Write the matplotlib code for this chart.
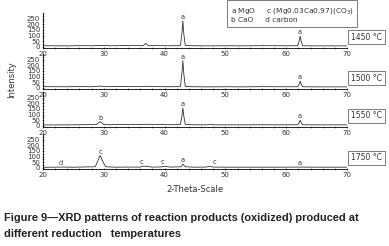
import matplotlib
matplotlib.use("Agg")
import matplotlib.pyplot as plt
from matplotlib.ticker import MultipleLocator

plt.rcParams['font.family'] = ['DejaVu Sans']

# temperatures (panel labels)
temps = ["1450 °C", "1500 °C", "1550 °C", "1750 °C"]

# XRD patterns (2-theta, intensity)
x_1450 = [20, 24, 26, 28, 29.4, 31, 33, 35, 36.5, 36.9, 37.3, 39, 41, 42.6, 42.85, 43.0, 43.15, 43.4, 45, 47, 50, 53, 56, 59, 61.9, 62.15, 62.3, 62.45, 62.7, 65, 70]
y_1450 = [10, 9, 11, 10, 13, 10, 12, 11, 12, 30, 12, 11, 10, 12, 120, 230, 120, 12, 10, 9, 10, 9, 11, 10, 10, 55, 95, 55, 10, 9, 9]

x_1500 = [20, 24, 26, 28, 29.4, 31, 33, 35, 36.9, 39, 41, 42.6, 42.85, 43.0, 43.15, 43.4, 45, 47, 50, 53, 56, 59, 61.9, 62.15, 62.3, 62.45, 62.7, 65, 70]
y_1500 = [11, 10, 12, 10, 15, 11, 12, 11, 14, 11, 10, 12, 130, 240, 130, 12, 10, 9, 10, 9, 11, 10, 10, 35, 60, 35, 10, 9, 9]

x_1550 = [20, 24, 26, 28.8, 29.4, 30.0, 31, 33, 35, 36.9, 39, 41, 42.6, 42.85, 43.0, 43.15, 43.4, 45, 47, 47.6, 48.2, 50, 53, 56, 59, 61.9, 62.15, 62.3, 62.45, 62.7, 65, 70]
y_1550 = [8, 9, 10, 12, 38, 12, 10, 13, 11, 14, 12, 10, 12, 90, 160, 90, 12, 10, 9, 14, 9, 9, 9, 10, 9, 10, 30, 50, 30, 10, 9, 9]

x_1750 = [20, 23, 25, 28.6, 29.0, 29.4, 29.8, 30.3, 32, 34, 36.0, 36.4, 38, 39.4, 39.8, 41, 42.7, 43.0, 43.4, 45, 46.8, 47.4, 48.0, 50, 53, 56, 59, 62.3, 65, 70]
y_1750 = [5, 7, 6, 10, 60, 110, 60, 10, 6, 7, 7, 16, 7, 8, 14, 7, 10, 32, 10, 6, 7, 14, 7, 6, 6, 6, 6, 7, 6, 6]

patterns = [(x_1450, y_1450), (x_1500, y_1500), (x_1550, y_1550), (x_1750, y_1750)]

# peak letters: (2-theta, intensity, letter)
labels_1450 = [(43.0, 230, "a"), (62.3, 95, "a")]
labels_1500 = [(43.0, 240, "a"), (62.3, 60, "a")]
labels_1550 = [(29.4, 38, "b"), (43.0, 160, "a"), (62.3, 50, "a")]
labels_1750 = [(23.0, 7, "d"), (29.4, 110, "c"), (36.2, 16, "c"), (39.6, 14, "c"),
               (43.0, 32, "a"), (48.2, 14, "c"), (62.3, 7, "a")]
peak_labels = [labels_1450, labels_1500, labels_1550, labels_1750]

fig = plt.figure(figsize=(3.89, 2.46), dpi=100)
H = 246.0
W = 389.0
left = 43 / W
width = (347 - 43) / W
axis_lines = [48, 89, 127, 169]
ax_h = 35 / H

for i, ((xs, ys), lab, t) in enumerate(zip(patterns, peak_labels, temps)):
    bottom = 1 - axis_lines[i] / H
    ax = fig.add_axes([left, bottom, width, ax_h])
    ax.patch.set_visible(False)
    ax.plot(xs, ys, color="#333333", lw=0.6)
    ax.set_xlim(20, 70)
    ax.set_ylim(-10, 300)
    ax.spines['top'].set_visible(False)
    ax.spines['right'].set_visible(False)
    ax.spines['left'].set_linewidth(0.6)
    ax.spines['bottom'].set_linewidth(0.6)
    ax.xaxis.set_major_locator(MultipleLocator(10))
    ax.xaxis.set_minor_locator(MultipleLocator(2))
    ax.yaxis.set_minor_locator(MultipleLocator(25))
    ax.set_yticks([0, 50, 100, 150, 200, 250])
    ax.tick_params(axis='both', which='major', labelsize=5, length=2, width=0.5,
                   pad=1, direction='inout', colors="#333333")
    ax.tick_params(axis='both', which='minor', length=1.2, width=0.4, direction='inout',
                   colors="#333333")
    for lx, ly, lt in lab:
        ax.text(lx, ly + 8, lt, fontsize=4.8, ha='center', va='bottom', color="#333333")
    fig.text(382 / W, 1 - (axis_lines[i] - 11) / H, t, fontsize=5.5, ha='right', va='center',
             color="#333333",
             bbox=dict(boxstyle='square,pad=0.35', fc='white', ec='#666666', lw=0.6))

fig.text(12 / W, 1 - 80 / H, "Intensity", rotation=90, fontsize=6, ha='center', va='center',
         color="#333333")
fig.text(195 / W, 1 - 189 / H, "2-Theta-Scale", fontsize=6, ha='center', va='center',
         color="#333333")

# legend box
fig.text(231 / W, 1 - 14.5 / H, "a MgO     c (Mg0.03Ca0.97)(CO$_3$)\nb CaO     d carbon",
         fontsize=5.3, ha='left', va='center', color="#333333", linespacing=1.15,
         bbox=dict(boxstyle='square,pad=0.5', fc='white', ec='#666666', lw=0.6))

cap_font = ['Liberation Sans', 'DejaVu Sans']
fig.text(4 / W, 1 - 218 / H, "Figure 9\u2014XRD patterns of reaction products (oxidized) produced at",
         fontsize=7.9, fontweight='bold', ha='left', va='center', color="#222222",
         family=cap_font)
fig.text(4 / W, 1 - 234 / H, "different reduction   temperatures",
         fontsize=7.9, fontweight='bold', ha='left', va='center', color="#222222",
         family=cap_font)

fig.savefig("out.png", dpi=100)
